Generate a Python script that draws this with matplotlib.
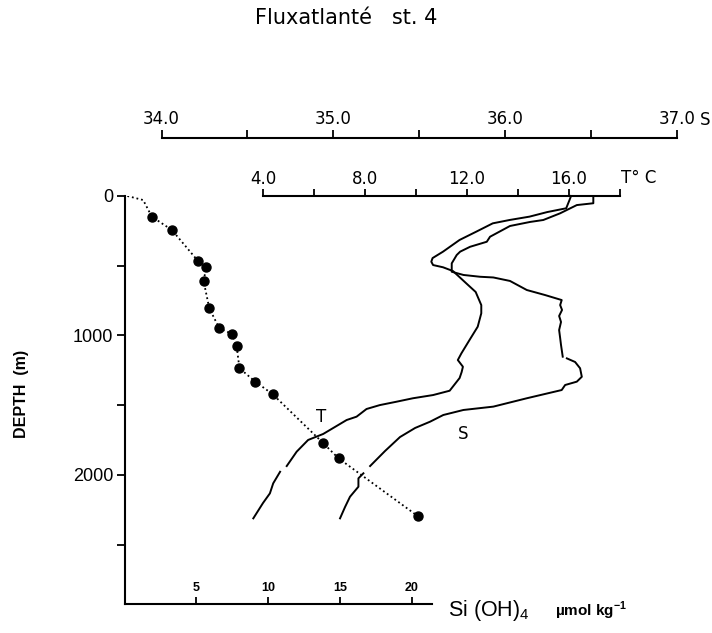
import numpy as np
import matplotlib
matplotlib.use("Agg")
import matplotlib.pyplot as plt

W, H = 712, 633

# silicate (umol/kg) at sampled depths (m)
si_depth = [148, 244, 464, 511, 607, 805, 949, 989, 1073, 1235, 1331, 1420, 1769, 1881, 2294]
si_conc = [1.9, 3.3, 5.1, 5.7, 5.5, 5.9, 6.6, 7.5, 7.8, 8.0, 9.1, 10.3, 13.8, 14.9, 20.4]
# the dotted guide starts at the surface
si_top_depth = [0, 29]
si_top_conc = [0.2, 1.3]

# CTD temperature trace (deg C); nan = pen lift
t_depth = [0, 29, 88, 115, 148, 172, 196, 256, 315, 399, 445, 471, 495, 511, 538,
           626, 688, 782, 841, 937, 1032, 1128, 1176, 1224, 1262, 1305, 1396, 1427,
           1450, 1475, 1499, 1527, 1582, 1606, 1706, 1749, 1833, 1936, np.nan,
           1977, 2060, 2132, 2201, 2311]
t_val = [16.08, 16.02, 15.89, 15.15, 14.45, 13.67, 13.01, 12.36, 11.71, 11.06, 10.65,
         10.60, 10.67, 11.06, 11.45, 11.97, 12.34, 12.56, 12.56, 12.42, 12.10, 11.78,
         11.64, 11.84, 11.79, 11.71, 11.32, 10.67, 9.88, 9.23, 8.58, 8.06, 7.67, 7.28,
         6.36, 5.77, 5.32, 4.93, np.nan, 4.67, 4.40, 4.27, 4.00, 3.62]

# CTD salinity trace
s_depth = [0, 52, 65, 124, 172, 186, 215, 292, 328, 364, 399, 423, 483, 543, 566, 579,
           584, 609, 674, 710, 746, 782, 817, 860, 903, 961, 1018, 1068, 1152, np.nan,
           1164, 1190, 1235, 1296, 1331, 1355, 1391, 1450, 1510, 1534, 1570, 1618, 1663,
           1728, 1828, 1936, np.nan, 1988, 2024, 2084, 2156, 2230, 2311]
s_val = [36.513, 36.513, 36.417, 36.320, 36.222, 36.145, 36.028, 35.912, 35.893, 35.796,
         35.738, 35.718, 35.689, 35.689, 35.757, 35.854, 35.931, 36.028, 36.126, 36.232,
         36.329, 36.320, 36.331, 36.314, 36.325, 36.314, 36.320, 36.325, 36.335, np.nan,
         36.359, 36.407, 36.436, 36.446, 36.417, 36.349, 36.329, 36.126, 35.931, 35.757,
         35.640, 35.563, 35.476, 35.388, 35.301, 35.214, np.nan, 35.175, 35.146, 35.146,
         35.097, 35.068, 35.039]

depth_ticks = [0, 500, 1000, 1500, 2000, 2500]
depth_labels = ["0", "", "1000", "", "2000", ""]
si_ticks = [5, 10, 15, 20]
t_ticks = [4, 6, 8, 10, 12, 14, 16, 18]
t_labels = ["4.0", "", "8.0", "", "12.0", "", "16.0", ""]
s_ticks = [34.0, 34.5, 35.0, 35.5, 36.0, 36.5, 37.0]
s_labels = ["34.0", "", "35.0", "", "36.0", "", "37.0"]

DEPTH_MAX = 2925
LW = 1.4
din = ["DejaVu Sans"]

fig = plt.figure(figsize=(W / 100, H / 100), dpi=100)


def frac(x0, x1):
    return [x0 / W, 29 / H, (x1 - x0) / W, 408 / H]


# main axes: silicate vs depth
ax = fig.add_axes(frac(124.5, 432))
ax.set_xlim(0, 21.4)
ax.set_ylim(DEPTH_MAX, 0)
for side in ("top", "right"):
    ax.spines[side].set_visible(False)
for side in ("left", "bottom"):
    ax.spines[side].set_linewidth(1.5)
ax.set_yticks(depth_ticks)
ax.set_yticklabels(depth_labels, family="Liberation Sans", fontsize=13)
ax.tick_params(axis="y", direction="out", length=6, width=1.3, pad=2)
ax.set_xticks(si_ticks)
ax.set_xticklabels([str(v) for v in si_ticks], family="Liberation Sans",
                   fontsize=9, fontweight="bold")
ax.tick_params(axis="x", direction="in", length=5, width=1.3, pad=-15.5)

ax.plot(si_top_conc + si_conc, si_top_depth + si_depth, color="black",
        linestyle=(0, (1, 1.6)), linewidth=1.3)
ax.plot(si_conc, si_depth, "o", color="black", markersize=6.5)

# temperature axes, spine along the surface
axT = fig.add_axes(frac(263, 620))
axT.set_xlim(4, 18)
axT.set_ylim(DEPTH_MAX, 0)
axT.patch.set_visible(False)
for side in ("left", "right", "bottom"):
    axT.spines[side].set_visible(False)
axT.spines["top"].set_linewidth(1.5)
axT.set_yticks([])
axT.xaxis.set_ticks_position("top")
axT.set_xticks(t_ticks)
axT.set_xticklabels(t_labels, family=din, fontsize=12)
axT.tick_params(axis="x", direction="out", length=5, width=1.3, pad=1)
axT.plot(t_val, t_depth, color="black", linewidth=LW, clip_on=False)

# salinity axes, spine raised above the temperature scale
axS = fig.add_axes(frac(161.5, 677))
axS.set_xlim(34, 37)
axS.set_ylim(DEPTH_MAX, 0)
axS.patch.set_visible(False)
for side in ("left", "right", "bottom"):
    axS.spines[side].set_visible(False)
axS.spines["top"].set_linewidth(1.5)
axS.spines["top"].set_position(("outward", 58 * 0.72))
axS.set_yticks([])
axS.xaxis.set_ticks_position("top")
axS.set_xticks(s_ticks)
axS.set_xticklabels(s_labels, family=din, fontsize=12)
axS.tick_params(axis="x", direction="out", length=6, width=1.3, pad=1)
axS.plot(s_val, s_depth, color="black", linewidth=LW, clip_on=False)


def px(x, y):
    return x / W, 1 - y / H


fig.text(*px(346, 18), "Fluxatlanté   st. 4", family=din, fontsize=15,
         ha="center", va="center")
fig.text(*px(621, 178), "T° C", family=din, fontsize=12, ha="left", va="center")
fig.text(*px(705, 120), "S", family=din, fontsize=12, ha="center", va="center")
fig.text(*px(321, 417), "T", family=din, fontsize=12, ha="center", va="center")
fig.text(*px(463, 434), "S", family=din, fontsize=12, ha="center", va="center")
fig.text(*px(22, 394), "DEPTH  (m)", family="Liberation Sans", fontsize=11.5,
         fontweight="bold", rotation=90, ha="center", va="center")
fig.text(*px(448, 616), r"Si (OH)$_\mathregular{4}$", family="Liberation Sans",
         fontsize=15.5, ha="left", va="baseline")
fig.text(*px(555, 616), r"µmol kg$^\mathregular{-1}$", family="Liberation Sans",
         fontsize=11, fontweight="bold", ha="left", va="baseline")

fig.savefig("out.png", dpi=100)
